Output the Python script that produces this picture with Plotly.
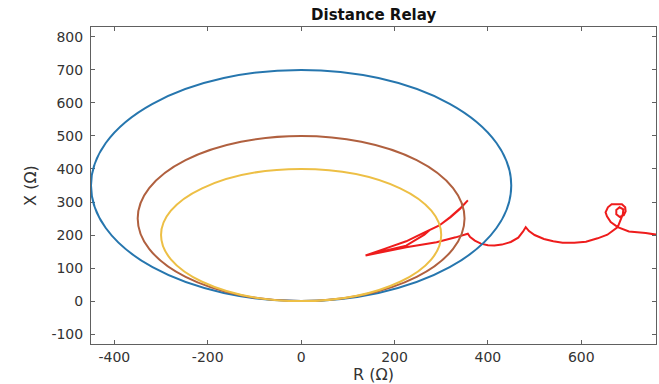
import plotly.graph_objects as go

# Mho zone characteristics (centre and semi-axes in ohms)
zone_names = ["Zone 3", "Zone 2", "Zone 1"]
zone_center_r = [0, 0, 0]
zone_center_x = [350, 250, 200]
zone_half_r = [450, 350, 300]
zone_half_x = [350, 250, 200]
zone_colors = ["#2676ae", "#b0603f", "#edbf45"]

# Apparent impedance trajectory seen by the relay
traj_r = [761, 738, 702, 678, 663, 655, 652, 657, 665, 676, 687, 694, 695, 691,
          682, 675, 675, 682, 690, 689, 684, 678, 656, 635, 610, 585, 560, 540,
          520, 500, 488, 481, 475, 465, 449, 430, 414, 400, 385, 372, 362, 357,
          331, 290, 225, 180, 138, 180, 225, 260, 296, 320, 340, 357, 340, 320,
          296, 276, 264, 225, 180, 145]
traj_x = [201, 206, 211, 224, 239, 257, 269, 284, 293, 294, 293, 284, 272, 260,
          255, 263, 276, 284, 278, 263, 245, 224, 201, 190, 180, 177, 177, 181,
          188, 200, 212, 224, 210, 192, 179, 171, 168, 169, 174, 183, 194, 204,
          193, 178, 163, 150, 138, 159, 181, 205, 229, 255, 280, 305, 279, 254,
          229, 216, 201, 168, 152, 141]

x_ticks = [-400, -200, 0, 200, 400, 600]
x_tick_text = ["-400", "-200", "0", "200", "400", "600"]
y_ticks = [-100, 0, 100, 200, 300, 400, 500, 600, 700, 800]
y_tick_text = ["-100", "0", "100", "200", "300", "400", "500", "600", "700", "800"]
x_range = [-450, 760]
y_range = [-130, 830]

fig = go.Figure()

# Zone boundaries drawn as data-space ellipses
shapes = []
for cr, cx, hr, hx, col in zip(zone_center_r, zone_center_x, zone_half_r, zone_half_x, zone_colors):
    shapes.append(dict(type="circle", xref="x", yref="y",
                       x0=cr - hr, x1=cr + hr, y0=cx - hx, y1=cx + hx,
                       line=dict(color=col, width=2), layer="above"))

fig.add_trace(go.Scatter(x=traj_r, y=traj_x, mode="lines",
                         line=dict(color="#ee1c1c", width=2),
                         showlegend=False, hoverinfo="skip"))

axis_common = dict(
    showline=True, linecolor="#606060", linewidth=1, mirror="allticks",
    ticks="inside", ticklen=4, tickcolor="#606060", tickwidth=1,
    showgrid=False, zeroline=False,
    tickfont=dict(family="DejaVu Sans", size=14, color="#333333"),
)

fig.update_layout(
    width=659, height=384,
    margin=dict(l=91, r=3, t=27, b=40),
    paper_bgcolor="white", plot_bgcolor="white",
    shapes=shapes,
    title=dict(text="<b>Distance Relay</b>", x=0.567, xanchor="center",
               y=0.975, yanchor="top",
               font=dict(family="DejaVu Sans", size=15, color="#111111")),
    xaxis=dict(range=x_range, tickvals=x_ticks, ticktext=x_tick_text,
               title=dict(text="R (Ω)", standoff=4,
                          font=dict(family="DejaVu Sans", size=16, color="#333333")),
               **axis_common),
    yaxis=dict(range=y_range, tickvals=y_ticks, ticktext=y_tick_text,
               ticklabelstandoff=4,
               title=dict(text="X (Ω)", standoff=10,
                          font=dict(family="DejaVu Sans", size=16, color="#333333")),
               **axis_common),
)

fig.write_html("out.html")
